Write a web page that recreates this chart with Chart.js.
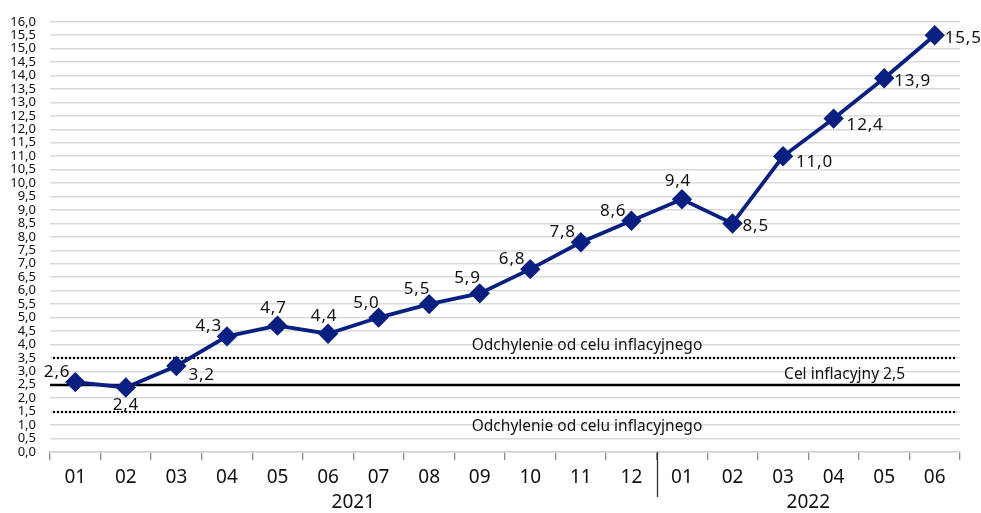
<!DOCTYPE html>
<html><head><meta charset="utf-8">
<script src="https://cdn.jsdelivr.net/npm/chart.js@4"></script>
<style>html,body{margin:0;padding:0;background:#fff}#wrap{width:981px;height:513px}</style>
</head><body><div id="wrap"><canvas id="c" width="981" height="513"></canvas></div>
<script>
const months = ['01','02','03','04','05','06','07','08','09','10','11','12','01','02','03','04','05','06'];
const years = ['2021','2022'];
const yearSpans = [12, 6];
const cpi = [2.6,2.4,3.2,4.3,4.7,4.4,5.0,5.5,5.9,6.8,7.8,8.6,9.4,8.5,11.0,12.4,13.9,15.5];
const target = 2.5;
const bandUpper = 3.5;
const bandLower = 1.5;
const bandLabel = 'Odchylenie od celu inflacyjnego';
const targetLabel = 'Cel inflacyjny 2,5';
// label placement per point (style codes)
const labelPos = ['L','B','BR','L','U','U','UL','UL','UL','L','L','L','U','R','R2','R2','R','R'];

const FONT = '"Noto Sans", sans-serif';
const fmt = v => v.toFixed(1).replace('.', ',');

const overlay = {
  id: 'overlay',
  beforeDatasetsDraw(chart) {
    const {ctx, chartArea: a, scales: {x, y}} = chart;
    ctx.save();
    ctx.strokeStyle = '#000';
    ctx.lineWidth = 2.2;
    ctx.setLineDash([2, 2]);
    [bandUpper, bandLower].forEach(v => {
      const py = Math.round(y.getPixelForValue(v));
      ctx.beginPath(); ctx.moveTo(a.left + 3, py); ctx.lineTo(a.right - 4, py); ctx.stroke();
    });
    ctx.setLineDash([]);
    ctx.lineWidth = 2.5;
    const ty = Math.round(y.getPixelForValue(target));
    ctx.beginPath(); ctx.moveTo(a.left, ty); ctx.lineTo(a.right, ty); ctx.stroke();
    ctx.fillStyle = '#111';
    ctx.font = '15.5px ' + FONT;
    ctx.textAlign = 'center';
    ctx.textBaseline = 'alphabetic';
    ctx.fillText(bandLabel, 587, y.getPixelForValue(bandUpper) - 8);
    ctx.fillText(bandLabel, 587, y.getPixelForValue(bandLower) + 19);
    ctx.textAlign = 'right';
    ctx.fillText(targetLabel, 905, ty - 6);
    let start = 0;
    const step = x.getPixelForValue(1) - x.getPixelForValue(0);
    ctx.font = '19px ' + FONT;
    ctx.textAlign = 'center';
    ctx.textBaseline = 'middle';
    yearSpans.forEach((n, i) => {
      const l = x.getPixelForValue(start) - step / 2;
      const r = x.getPixelForValue(start + n - 1) + step / 2;
      ctx.fillText(years[i], (l + r) / 2, 503);
      if (i > 0) {
        ctx.strokeStyle = '#333'; ctx.lineWidth = 1.3;
        ctx.beginPath(); ctx.moveTo(Math.round(l) + 0.5, a.bottom); ctx.lineTo(Math.round(l) + 0.5, 497); ctx.stroke();
      }
      start += n;
    });
    ctx.restore();
  },
  afterDatasetsDraw(chart) {
    const {ctx} = chart;
    const meta = chart.getDatasetMeta(0);
    ctx.save();
    ctx.fillStyle = '#111';
    ctx.font = '17px ' + FONT;
    try { ctx.letterSpacing = '0.8px'; } catch (e) {}
    ctx.textBaseline = 'alphabetic';
    meta.data.forEach((pt, i) => {
      const t = fmt(cpi[i]);
      let dx = 0, dy = 0, al = 'center';
      switch (labelPos[i]) {
        case 'L': dx = -5; dy = -5; al = 'right'; break;
        case 'UL': dx = 1; dy = -10; al = 'right'; break;
        case 'U': dx = -4; dy = -13; break;
        case 'B': dx = 0; dy = 23; break;
        case 'BR': dx = 12; dy = 14; al = 'left'; break;
        case 'R': dx = 10; dy = 8; al = 'left'; break;
        case 'R2': dx = 13; dy = 11; al = 'left'; break;
      }
      ctx.textAlign = al;
      ctx.fillText(t, pt.x + dx, pt.y + dy);
    });
    ctx.restore();
  }
};

new Chart(document.getElementById('c'), {
  type: 'line',
  data: {
    labels: months,
    datasets: [{
      data: cpi,
      borderColor: '#0a2080',
      backgroundColor: '#0a2080',
      borderWidth: 3.8,
      pointStyle: 'rectRot',
      pointRadius: 7.5,
      pointHoverRadius: 7.5,
      tension: 0
    }]
  },
  options: {
    responsive: false,
    animation: false,
    events: [],
    layout: {padding: {top: 12, right: 21, left: 0, bottom: 0}},
    plugins: {legend: {display: false}, tooltip: {enabled: false}},
    scales: {
      x: {
        offset: true,
        grid: {offset: true, drawOnChartArea: false, drawTicks: true, tickLength: 8, color: '#8c8c8c', lineWidth: 1.3},
        border: {display: true, color: '#d0d0d0', width: 1.5},
        ticks: {font: {family: FONT, size: 19}, color: '#111', padding: 6, maxRotation: 0, autoSkip: false},
        afterFit: s => { s.height = 61; }
      },
      y: {
        min: 0, max: 16,
        grid: {color: '#d9d9d9', lineWidth: 1.5, drawTicks: false},
        border: {display: false},
        ticks: {stepSize: 0.5, callback: v => fmt(v), font: {family: FONT, size: 13}, color: '#111', padding: 14, autoSkip: false},
        afterFit: s => { s.width = 50; }
      }
    }
  },
  plugins: [overlay]
});
</script></body></html>
